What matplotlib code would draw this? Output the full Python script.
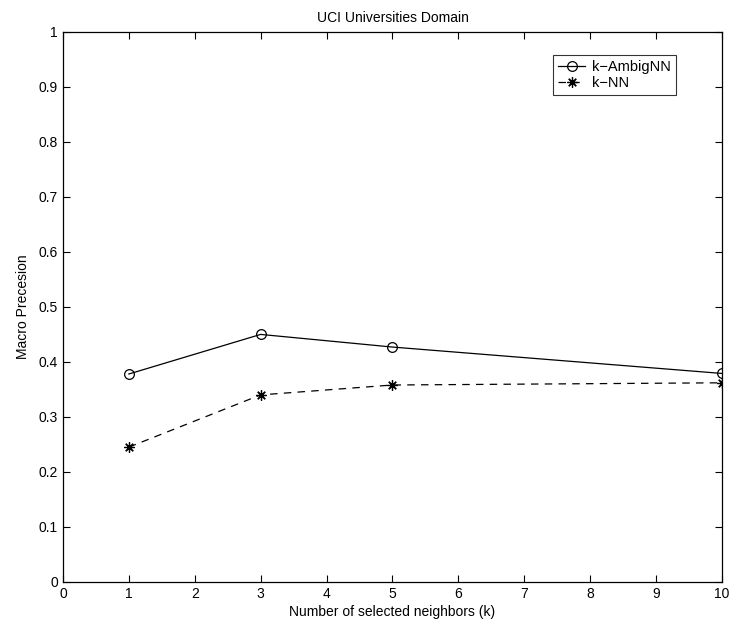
import matplotlib
matplotlib.use("Agg")
import matplotlib.pyplot as plt

plt.rcParams['font.family'] = ['Liberation Sans', 'DejaVu Sans']

# neighbors (k)
k = [1, 3, 5, 10]
ambig_nn = [0.378, 0.450, 0.427, 0.379]
knn = [0.245, 0.340, 0.358, 0.362]

fig = plt.figure(figsize=(7.49, 6.27), dpi=100)
ax = fig.add_axes([0.084, 0.072, 0.880, 0.877])

ax.plot(k, ambig_nn, color='black', linestyle='-', linewidth=0.9,
        marker='o', markersize=7, markerfacecolor='none', markeredgewidth=0.9,
        label='k\u2212AmbigNN')
ax.plot(k, knn, color='black', linestyle=(0, (6, 5)), linewidth=0.9,
        marker=(8, 2, 0), markersize=7.5, markeredgewidth=0.9,
        label='k\u2212NN')

ax.set_xlim(0, 10)
ax.set_ylim(0, 1)
ax.set_xticks(range(0, 11))
ax.set_yticks([i / 10 for i in range(0, 11)])
ax.set_yticklabels(['0', '0.1', '0.2', '0.3', '0.4', '0.5', '0.6', '0.7', '0.8', '0.9', '1'])
ax.tick_params(direction='in', top=True, right=True, labelsize=10, length=5, width=0.8)
for s in ax.spines.values():
    s.set_linewidth(0.9)

ax.set_xlabel('Number of selected neighbors (k)', fontsize=10, labelpad=3)
ax.set_ylabel('Macro Precesion', fontsize=10, labelpad=6)
ax.set_title('UCI Universities Domain', fontsize=10, pad=7)

leg = ax.legend(loc='upper left', bbox_to_anchor=(0.744, 0.958), fontsize=10.5,
                frameon=True, fancybox=False, edgecolor='black',
                borderpad=0.35, handlelength=1.8, labelspacing=0.1,
                handletextpad=0.5, borderaxespad=0)
leg.get_frame().set_linewidth(0.8)

fig.savefig('out.png', dpi=100)
